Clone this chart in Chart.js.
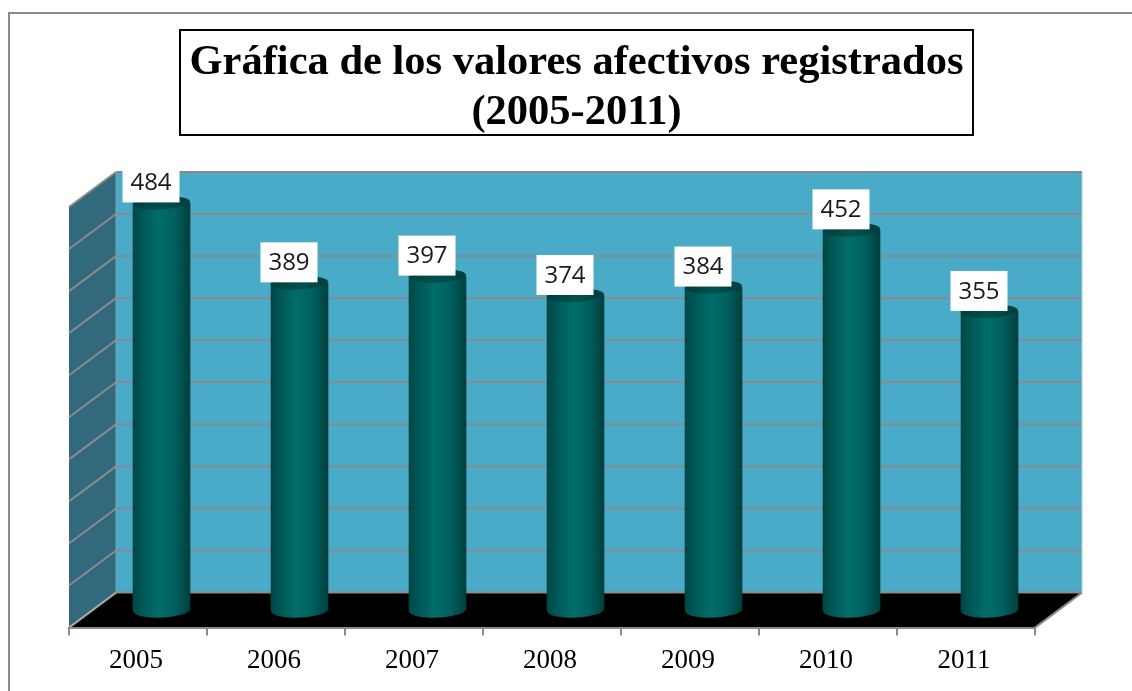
<!DOCTYPE html>
<html><head><meta charset="utf-8">
<style>html,body{margin:0;padding:0;background:#fff;overflow:hidden}canvas{display:block}</style>
<script src="https://cdn.jsdelivr.net/npm/chart.js@4"></script>
</head><body>
<div style="width:1132px;height:691px;position:relative"><canvas id="c" width="1132" height="691"></canvas></div>
<script>
const categories = ['2005','2006','2007','2008','2009','2010','2011'];
const values = [484,389,397,374,384,452,355];
const titleLines = ['Gráfica de los valores afectivos registrados','(2005-2011)'];

const DX = 47, DY = -35;
const BAR = 57, RY = 6.5;
const GRID = '#8a8a8a';

function barGradient(ctx, cx) {
  if (!isFinite(cx)) return '#005a58';
  const g = ctx.createLinearGradient(cx - BAR/2, 0, cx + BAR/2, 0);
  g.addColorStop(0, '#004745');
  g.addColorStop(0.15, '#005654');
  g.addColorStop(0.45, '#006d6a');
  g.addColorStop(0.72, '#00615f');
  g.addColorStop(1, '#003f3d');
  return g;
}
function line(ctx, x1, y1, x2, y2, color, w) {
  ctx.strokeStyle = color; ctx.lineWidth = w;
  ctx.beginPath(); ctx.moveTo(x1, y1); ctx.lineTo(x2, y2); ctx.stroke();
}
const scene = {
  id: 'scene',
  afterLayout(chart) {
    chart.titleBlock.left = 180;
    chart.titleBlock.right = 973;
  },
  beforeDraw(chart) {
    const { ctx, chartArea: a, scales: { y } } = chart;
    ctx.save();
    ctx.fillStyle = '#fff'; ctx.fillRect(0, 0, chart.width, chart.height);
    // page frame
    ctx.strokeStyle = '#8c8c8c'; ctx.lineWidth = 2;
    ctx.beginPath(); ctx.moveTo(9, 691); ctx.lineTo(9, 13); ctx.lineTo(1132, 13); ctx.stroke();
    // title box
    ctx.fillStyle = '#fff'; ctx.strokeStyle = '#000'; ctx.lineWidth = 2;
    ctx.fillRect(180, 30, 793, 105); ctx.strokeRect(180, 30, 793, 105);
    // back wall
    ctx.fillStyle = '#4aabc8';
    ctx.fillRect(a.left + DX, a.top + DY, a.right - a.left, a.bottom - a.top);
    // side wall
    ctx.fillStyle = '#33697d';
    ctx.beginPath();
    ctx.moveTo(a.left, a.bottom); ctx.lineTo(a.left + DX, a.bottom + DY);
    ctx.lineTo(a.left + DX, a.top + DY); ctx.lineTo(a.left, a.top); ctx.closePath(); ctx.fill();
    // floor
    ctx.fillStyle = '#000';
    ctx.beginPath();
    ctx.moveTo(a.left, a.bottom); ctx.lineTo(a.right, a.bottom);
    ctx.lineTo(a.right + DX, a.bottom + DY); ctx.lineTo(a.left + DX, a.bottom + DY); ctx.closePath(); ctx.fill();
    // grid
    y.ticks.forEach(t => {
      const p = y.getPixelForValue(t.value);
      if (t.value > 0) line(ctx, a.left + DX, p + DY, a.right + DX, p + DY, GRID, 2);
      line(ctx, a.left, p, a.left + DX, p + DY, t.value === 0 ? '#a8a8a8' : GRID, 2);
    });
    line(ctx, a.left + DX, a.bottom + DY, a.right + DX, a.bottom + DY, GRID, 2);
    line(ctx, a.right, a.bottom, a.right + DX, a.bottom + DY, GRID, 2);
    line(ctx, a.left + DX, a.top + DY, a.left + DX, a.bottom + DY, '#7fa3b0', 1);
    line(ctx, a.right + DX, a.top + DY, a.right + DX, a.bottom + DY, '#9fd0e0', 1);
    ctx.restore();
  },
  beforeDatasetDraw(chart) {
    const { ctx } = chart;
    const meta = chart.getDatasetMeta(0);
    ctx.save();
    ctx.translate(DX / 2, DY / 2);
    meta.data.forEach(b => {
      ctx.fillStyle = barGradient(ctx, b.x);
      ctx.beginPath();
      ctx.ellipse(b.x, b.base, BAR / 2, RY + 1, -0.04, 0, Math.PI * 2);
      ctx.fill();
    });
  },
  afterDatasetDraw(chart) {
    const { ctx } = chart;
    const meta = chart.getDatasetMeta(0);
    meta.data.forEach(b => {
      const g = ctx.createLinearGradient(b.x - BAR/2, 0, b.x + BAR/2, 0);
      g.addColorStop(0, '#003e3c');
      g.addColorStop(0.5, '#00504e');
      g.addColorStop(1, '#003e3c');
      ctx.fillStyle = g;
      ctx.beginPath();
      ctx.ellipse(b.x, b.y, BAR / 2, RY, -0.05, 0, Math.PI * 2);
      ctx.fill();
    });
    ctx.restore();
  },
  afterDatasetsDraw(chart) {
    const { ctx } = chart;
    const meta = chart.getDatasetMeta(0);
    ctx.save();
    meta.data.forEach((b, i) => {
      const cx = b.x + 13, cy = b.y - 38;
      ctx.fillStyle = '#fff';
      ctx.fillRect(cx - 28.5, cy - 20, 57, 40);
      ctx.fillStyle = '#1a1a1a';
      ctx.font = '24px "Open Sans"';
      ctx.textAlign = 'center'; ctx.textBaseline = 'middle';
      ctx.fillText(String(values[i]), cx, cy + 1);
    });
    ctx.restore();
  }
};

new Chart(document.getElementById('c'), {
  type: 'bar',
  data: {
    labels: categories,
    datasets: [{
      data: values,
      barThickness: BAR,
      borderWidth: 0,
      clip: false,
      backgroundColor(c) {
        return barGradient(c.chart.ctx, c.chart.scales.x.getPixelForValue(c.dataIndex));
      }
    }]
  },
  options: {
    responsive: false,
    animation: false,
    layout: { padding: { left: 61, right: 97, top: 38, bottom: 5 } },
    plugins: {
      legend: { display: false },
      tooltip: { enabled: false },
      title: {
        display: true,
        text: titleLines,
        color: '#000',
        font: { family: '"Liberation Serif"', weight: 'bold', size: 42.5, lineHeight: 1.176 },
        padding: { top: 0, bottom: 69 }
      }
    },
    scales: {
      x: {
        border: { color: '#8a8a8a', width: 2 },
        grid: { offset: true, drawOnChartArea: false, drawTicks: true, tickLength: 8, color: '#8a8a8a', lineWidth: 2 },
        ticks: { color: '#000', padding: 9, labelOffset: -2, maxRotation: 0, font: { family: '"Liberation Serif"', size: 27 } }
      },
      y: {
        min: 0, max: 500,
        border: { display: false },
        grid: { display: false },
        ticks: { display: false, stepSize: 50 }
      }
    }
  },
  plugins: [scene]
});
</script>
</body></html>
